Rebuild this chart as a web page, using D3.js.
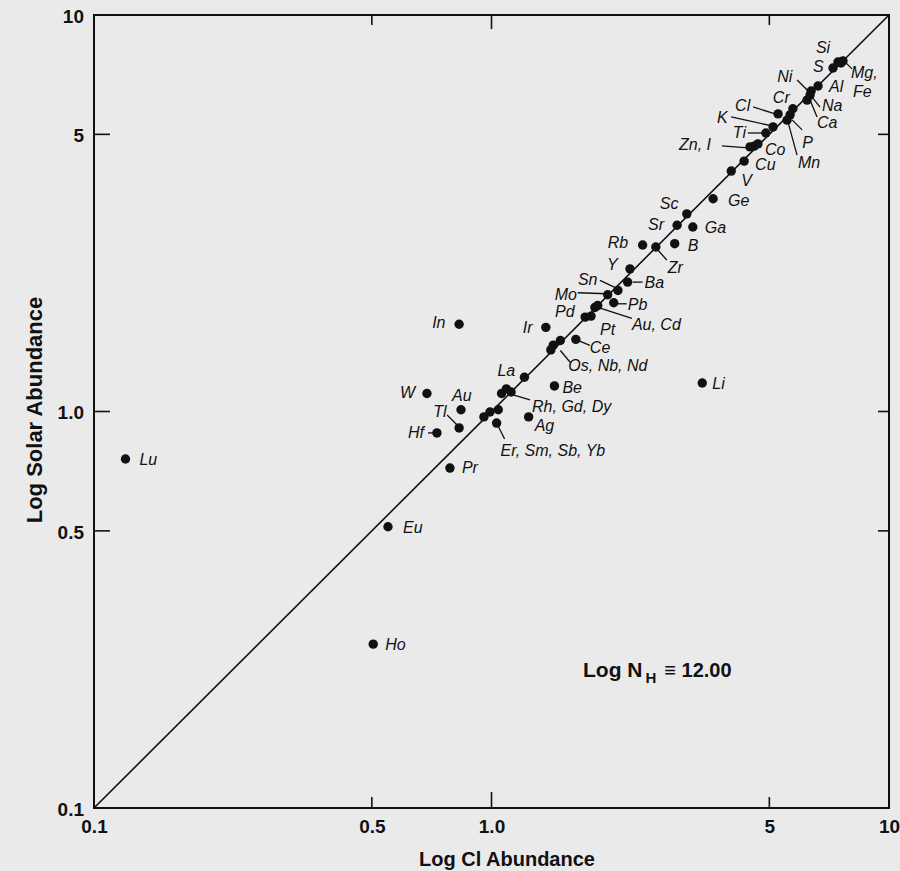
<!DOCTYPE html>
<html><head><meta charset="utf-8">
<script src="https://cdnjs.cloudflare.com/ajax/libs/d3/7.8.5/d3.min.js"></script>
<style>
html,body{margin:0;padding:0;background:#eaeaea;}
svg{display:block;}
text{font-family:"Liberation Sans",Arial,Helvetica,sans-serif;fill:#111;}
</style></head>
<body>
<svg id="chart" width="900" height="871"></svg>
<script>
// ---- data ----
const elements = ["Si","Mg","Fe","S","Al","Ni","Na","Ca","Cr","P","Mn","Cl","K","Ti","Zn","I","Co","Cu","V","Ge","Sc","Ga","Sr","Rb","B","Zr","Y","Ba","Sn","Mo","Pb","Au2","Cd","Pd","Pt","Ir","Ce","Os","Nb","Nd","La","Be","Rh","Gd","Dy","Er","Sm","Sb","Yb","Ag","In","W","Au","Tl","Hf","Pr","Lu","Eu","Ho","Li"];
const clAbundance = [7.44,7.66,7.57,7.23,6.63,6.37,6.33,6.22,5.73,5.64,5.54,5.26,5.11,4.90,4.47,4.58,4.68,4.32,4.01,3.61,3.10,3.21,2.93,2.40,2.89,2.59,2.23,2.20,2.08,1.96,2.03,1.85,1.82,1.72,1.78,1.37,1.63,1.49,1.43,1.41,1.21,1.44,1.06,1.09,1.12,0.957,0.991,1.04,1.03,1.24,0.829,0.688,0.838,0.829,0.729,0.786,0.120,0.549,0.504,3.39];
const solarAbundance = [7.61,7.66,7.57,7.35,6.62,6.43,6.28,6.10,5.80,5.60,5.43,5.63,5.22,5.04,4.65,4.67,4.73,4.28,4.04,3.44,3.15,2.92,2.95,2.63,2.65,2.60,2.29,2.12,2.02,1.97,1.88,1.85,1.83,1.73,1.74,1.63,1.52,1.51,1.47,1.43,1.22,1.16,1.11,1.14,1.12,0.969,0.997,1.01,0.935,0.969,1.66,1.11,1.01,0.909,0.883,0.720,0.759,0.512,0.259,1.18];
const tickValues = [0.1,0.5,1,5,10];
const tickLabels = ["0.1","0.5","1.0","5","10"];
const diagonal = [0.1,10];
const xTitle = "Log Cl Abundance";
const yTitle = "Log Solar Abundance";

// ---- label layout (offsets from the referenced point) ----
const labels = [
 {t:"Si",r:"Si",dx:-22,dy:-9},
 {t:"S",r:"S",dx:-20,dy:4},
 {t:"Mg,",r:"Mg",dx:8,dy:17,l:[3,2,9,8]},
 {t:"Fe",r:"Fe",dx:12,dy:34},
 {t:"Ni",r:"Ni",dx:-34,dy:-9,l:[-14,-11,-3,0]},
 {t:"Al",r:"Al",dx:11,dy:6},
 {t:"Cr",r:"Cr",dx:-20,dy:-6},
 {t:"Na",r:"Na",dx:12,dy:16,l:[2,2,10,12]},
 {t:"Ca",r:"Ca",dx:10,dy:28,l:[3,0,10,17]},
 {t:"Cl",r:"Cl",dx:-43,dy:-3,l:[-25,-7,-3,0]},
 {t:"K",r:"K",dx:-56,dy:-4,l:[-42,-10,-1,-1]},
 {t:"Ti",r:"Ti",dx:-33,dy:5,l:[-18,0,-2,0]},
 {t:"Zn, I",r:"Zn",dx:-71,dy:3,l:[-28,-1,-2,1]},
 {t:"Co",r:"Co",dx:7,dy:11},
 {t:"Cu",r:"Cu",dx:11,dy:9},
 {t:"P",r:"P",dx:12,dy:33,l:[2,5,12,15]},
 {t:"Mn",r:"Mn",dx:11,dy:48,l:[1,2,10,35]},
 {t:"V",r:"V",dx:10,dy:15},
 {t:"Ge",r:"Ge",dx:15,dy:7},
 {t:"Sc",r:"Sc",dx:-27,dy:-5},
 {t:"Ga",r:"Ga",dx:12,dy:6},
 {t:"Sr",r:"Sr",dx:-29,dy:5},
 {t:"Rb",r:"Rb",dx:-35,dy:3},
 {t:"B",r:"B",dx:13,dy:7},
 {t:"Zr",r:"Zr",dx:12,dy:26,l:[2,3,11,13]},
 {t:"Y",r:"Y",dx:-23,dy:1},
 {t:"Ba",r:"Ba",dx:17,dy:6,l:[5,0,15,0]},
 {t:"Sn",r:"Sn",dx:-40,dy:-5,l:[-18,-10,-1,-2]},
 {t:"Mo",r:"Mo",dx:-53,dy:5,l:[-30,-2,-1,-1]},
 {t:"Pb",r:"Pb",dx:14,dy:7,l:[4,1,13,1]},
 {t:"Pd",r:"Pd",dx:-30,dy:0},
 {t:"Au, Cd",r:"Cd",dx:37,dy:23,l:[3,0,37,11]},
 {t:"Pt",r:"Pt",dx:9,dy:19},
 {t:"Ir",r:"Ir",dx:-23,dy:6},
 {t:"Ce",r:"Ce",dx:14,dy:14,l:[2,1,14,6]},
 {t:"Os, Nb, Nd",r:"Os",dx:8,dy:30,l:[0,10,10,22]},
 {t:"La",r:"La",dx:-27,dy:-1},
 {t:"Be",r:"Be",dx:8,dy:7},
 {t:"Rh, Gd, Dy",r:"Dy",dx:21,dy:20,l:[2,3,19,8]},
 {t:"W",r:"W",dx:-27,dy:4},
 {t:"Au",r:"Au",dx:-9,dy:-9},
 {t:"Tl",r:"Tl",dx:-26,dy:-11,l:[-12,-13,-1,-2]},
 {t:"Hf",r:"Hf",dx:-29,dy:5,l:[-9,0,-4,0]},
 {t:"Ag",r:"Ag",dx:6,dy:14},
 {t:"Er, Sm, Sb, Yb",r:"Yb",dx:4,dy:33,l:[1,2,8,16]},
 {t:"Pr",r:"Pr",dx:12,dy:5},
 {t:"Lu",r:"Lu",dx:14,dy:6},
 {t:"Eu",r:"Eu",dx:15,dy:6},
 {t:"Ho",r:"Ho",dx:12,dy:6},
 {t:"Li",r:"Li",dx:10,dy:6},
 {t:"In",r:"In",dx:-27,dy:4}
];

const svg = d3.select("#chart");
const L=94,R=889,T=15,B=808;
const x = d3.scaleLog().domain([0.1,10]).range([L,R]);
const y = d3.scaleLog().domain([0.1,10]).range([B,T]);

const pts = elements.map((e,i)=>({e, xv:clAbundance[i], yv:solarAbundance[i]}));
const byName = {}; pts.forEach(p=>byName[p.e]=p);

// frame
svg.append("rect").attr("x",x(0.1)).attr("y",y(10))
  .attr("width",x(10)-x(0.1)).attr("height",y(0.1)-y(10))
  .attr("fill","none").attr("stroke","#111").attr("stroke-width",2);

// inner ticks
const inner = [0.5,1,5];
const g = svg.append("g").attr("stroke","#111").attr("stroke-width",1.6);
inner.forEach(v=>{
  const lb = v===1?16:11;
  g.append("line").attr("x1",x(v)).attr("x2",x(v)).attr("y1",B).attr("y2",B-lb);
  g.append("line").attr("y1",y(v)).attr("y2",y(v)).attr("x1",L).attr("x2",L+16);
  g.append("line").attr("y1",y(v)).attr("y2",y(v)).attr("x1",R).attr("x2",R-11);
  g.append("line").attr("x1",x(v)).attr("x2",x(v)).attr("y1",T).attr("y2",T+(v===1?14:10));
});

// axis labels via d3 axes
const ax = svg.append("g").attr("transform",`translate(0,${B})`)
  .call(d3.axisBottom(x).tickValues(tickValues).tickSize(0).tickFormat((d,i)=>tickLabels[i]));
ax.select(".domain").remove();
ax.selectAll("text").attr("y",25).attr("dy",null)
  .style("font-size","19px").style("font-weight","bold").style("font-family","Liberation Sans, Arial, sans-serif");
const ay = svg.append("g").attr("transform",`translate(${L},0)`)
  .call(d3.axisLeft(y).tickValues(tickValues).tickSize(0).tickPadding(10).tickFormat((d,i)=>tickLabels[i]));
ay.select(".domain").remove();
ay.selectAll("text").attr("dy","0.38em")
  .style("font-size","19px").style("font-weight","bold").style("font-family","Liberation Sans, Arial, sans-serif");

// diagonal
svg.append("line").attr("x1",x(diagonal[0])).attr("y1",y(diagonal[0]))
  .attr("x2",x(diagonal[1])).attr("y2",y(diagonal[1]))
  .attr("stroke","#111").attr("stroke-width",1.6);

// leaders
svg.append("g").selectAll("line").data(labels.filter(d=>d.l)).join("line")
  .attr("x1",d=>x(byName[d.r].xv)+d.l[0]).attr("y1",d=>y(byName[d.r].yv)+d.l[1])
  .attr("x2",d=>x(byName[d.r].xv)+d.l[2]).attr("y2",d=>y(byName[d.r].yv)+d.l[3])
  .attr("stroke","#111").attr("stroke-width",1.3);

// points
svg.append("g").selectAll("circle").data(pts).join("circle")
  .attr("cx",d=>x(d.xv)).attr("cy",d=>y(d.yv)).attr("r",4.7).attr("fill","#111");

// labels
svg.append("g").selectAll("text").data(labels).join("text")
  .attr("x",d=>x(byName[d.r].xv)+d.dx).attr("y",d=>y(byName[d.r].yv)+d.dy)
  .style("font-size","16px").style("font-style","italic").text(d=>d.t);

// titles
svg.append("text").attr("x",507).attr("y",866).attr("text-anchor","middle")
  .style("font-size","20px").style("font-weight","bold").text(xTitle);
svg.append("text").attr("transform","translate(42,410) rotate(-90)").attr("text-anchor","middle")
  .style("font-size","22px").style("font-weight","bold").text(yTitle);

// annotation
const ann = svg.append("text").attr("x",583).attr("y",677)
  .style("font-size","20px").style("font-weight","bold");
ann.append("tspan").style("font-size","21px").text("Log N");
ann.append("tspan").attr("dx",3).attr("dy",6).style("font-size","15px").text("H");
ann.append("tspan").attr("dx",8).attr("dy",-6).text("\u2261 12.00");
</script>
</body></html>
